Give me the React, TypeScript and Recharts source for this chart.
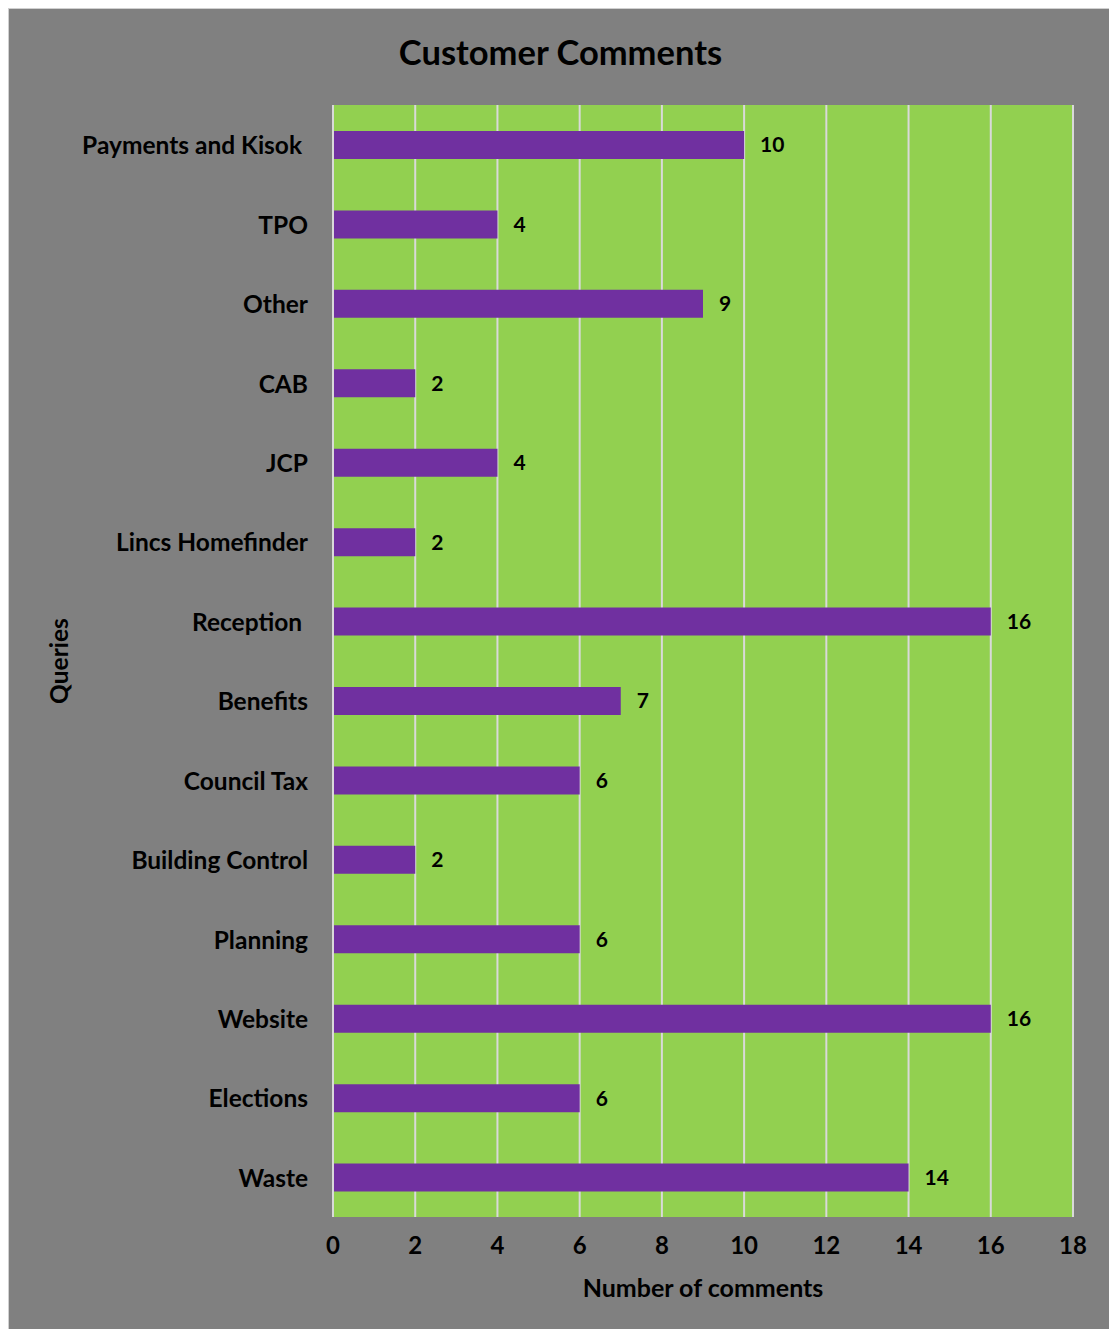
import { Bar, BarChart, CartesianGrid, LabelList, XAxis, YAxis } from "recharts";

const categories = [
  "Payments and Kisok ",
  "TPO",
  "Other",
  "CAB",
  "JCP",
  "Lincs Homefinder",
  "Reception ",
  "Benefits",
  "Council Tax",
  "Building Control",
  "Planning",
  "Website",
  "Elections",
  "Waste",
];
const comments = [10, 4, 9, 2, 4, 2, 16, 7, 6, 2, 6, 16, 6, 14];
const xTicks = [0, 2, 4, 6, 8, 10, 12, 14, 16, 18];

const data = categories.map((name, i) => ({ name, value: comments[i] }));

const FONT = "Lato, 'Open Sans', sans-serif";

function CategoryTick(props: any) {
  const { x, y, payload } = props;
  return (
    <text
      x={x}
      y={y}
      textAnchor="end"
      dominantBaseline="central"
      fontFamily={FONT}
      fontWeight={700}
      fontSize={24.5}
      fill="#000"
      style={{ whiteSpace: "pre" }}
    >
      {payload.value}
    </text>
  );
}

function QueriesLabel(props: any) {
  const { viewBox } = props;
  const cx = 50;
  const cy = viewBox.y + viewBox.height / 2;
  return (
    <text
      x={cx}
      y={cy}
      transform={`rotate(-90, ${cx}, ${cy})`}
      textAnchor="middle"
      dominantBaseline="central"
      fontFamily={FONT}
      fontWeight={700}
      fontSize={24.5}
      fill="#000"
    >
      Queries
    </text>
  );
}

function NumberLabel(props: any) {
  const { viewBox } = props;
  const cx = viewBox.x + viewBox.width / 2;
  const cy = viewBox.y + 70;
  return (
    <text
      x={cx}
      y={cy}
      textAnchor="middle"
      dominantBaseline="central"
      fontFamily={FONT}
      fontWeight={700}
      fontSize={25}
      fill="#000"
    >
      Number of comments
    </text>
  );
}

export default function App() {
  return (
    <div
      style={{
        position: "relative",
        width: 1105,
        height: 1330,
        background: "#808080",
        boxShadow: "inset 0 0 0 1px #d0d0d0",
        fontFamily: FONT,
      }}
    >
      <div
        style={{
          position: "absolute",
          top: 24,
          left: 0,
          width: "100%",
          textAlign: "center",
          fontSize: 34.5,
          fontWeight: 700,
          color: "#000",
          lineHeight: "40px",
        }}
      >
        Customer Comments
      </div>
      <BarChart
        width={1105}
        height={1330}
        data={data}
        layout="vertical"
        margin={{ top: 97, right: 40, bottom: 0, left: 0 }}
        barSize={28}
        style={{ position: "absolute", top: 0, left: 0 }}
      >
        <CartesianGrid horizontal={false} stroke="#d9d9d9" strokeWidth={2} fill="#92D050" />
        <XAxis
          type="number"
          domain={[0, 18]}
          ticks={xTicks}
          axisLine={false}
          tickLine={false}
          tickSize={6}
          tickMargin={14}
          tick={{ fill: "#000", fontSize: 24, fontWeight: 700, fontFamily: FONT }}
          height={121}
          label={<NumberLabel />}
        />
        <YAxis
          type="category"
          dataKey="name"
          width={325}
          axisLine={{ stroke: "#d9d9d9", strokeWidth: 2 }}
          tickLine={false}
          tickSize={6}
          tickMargin={19}
          tick={<CategoryTick />}
          interval={0}
          label={<QueriesLabel />}
        />
        <Bar dataKey="value" fill="#7030A0" isAnimationActive={false}>
          <LabelList
            dataKey="value"
            position="right"
            offset={16}
            fill="#000"
            fontSize={21}
            fontWeight={700}
            fontFamily={FONT}
          />
        </Bar>
      </BarChart>
    </div>
  );
}
